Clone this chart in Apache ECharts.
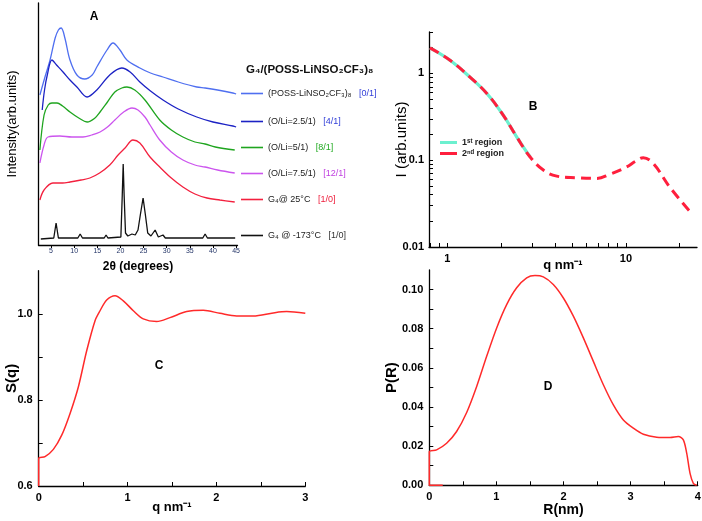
<!DOCTYPE html>
<html><head><meta charset="utf-8">
<script src="https://cdn.jsdelivr.net/npm/echarts@6/dist/echarts.min.js"></script>
<style>html,body{margin:0;padding:0;background:#fff}#c{width:702px;height:521px}</style>
</head><body><div id="c"></div>
<script>
// ---------- Panel A: XRD patterns (2θ degrees, intensity arb. units) ----------
const xrdPOSS = [[2.6,150],[3.7,168],[4.8,185],[5.9,207],[6.6,215],[7.2,217],[8.0,207],[9.1,185],[10.6,170],[12.3,166],[13.9,170],[14.9,178],[17.1,195],[18.4,202],[19.9,195],[21.4,185],[24.2,177],[26.5,172],[29.2,168],[32.5,163],[36.5,158],[38.3,157],[41,155],[44.3,152],[45,151]];
const xrdOLi25 = [[3.1,135],[3.6,155],[4.2,170],[5.2,185],[6.2,180],[7.6,173],[9.1,165],[10.6,158],[12.8,148],[14.9,155],[17.7,170],[20.3,177],[22.1,173],[24.2,163],[26.5,154],[29.2,145],[32.5,136],[36.5,128],[40,123],[44.3,119],[45,118]];
const xrdOLi5 = [[2.6,95],[3.5,130],[4.4,140],[5.2,142],[6.3,142],[7.5,139],[9.1,133],[11,127],[12.8,123],[14.5,127],[15.6,133],[17.2,143],[18.8,153],[20.3,157],[21.4,158],[23.1,155],[25.3,145],[28.5,125],[31,115],[33.5,108],[36.1,103],[38.3,101],[40.5,98],[44.7,95]];
const xrdOLi75 = [[2.6,82],[3.5,100],[4.35,108],[6.9,109],[9.5,108],[11.9,108],[13.8,110],[15.6,113],[17.2,118],[18.8,125],[20.7,133],[22.5,137],[23.8,135],[25.3,128],[26.4,120],[28.5,105],[31,93],[33.5,85],[36.1,80],[38.3,78],[41,75],[44.7,72]];
const xrdG4RT = [[2.6,45],[3.5,55],[5.4,62],[7.5,62],[9.1,63],[11.5,65],[13.4,67],[15.5,72],[17.7,80],[19.5,90],[21,97],[22.7,105],[24.2,102],[26.4,88],[28.5,78],[31,67],[33.5,58],[36.1,51],[38.7,47],[41.5,45],[44.7,43]];
const xrdG4Cold = [[2.8,6],[5.6,7],[6.1,22],[6.6,7],[10.8,7],[11.3,11],[11.8,7],[16.5,7],[16.9,10],[17.3,7],[20.1,8],[20.4,50],[20.6,81],[20.8,50],[21.1,12],[21.6,9],[22.5,11],[23.2,10],[23.8,15],[24.3,30],[24.9,47],[25.4,30],[25.9,12],[26.6,9],[27.5,15],[28.2,8],[29.2,10],[29.7,7],[35.7,7],[36.1,9],[36.5,7],[37.8,7],[38.3,11],[38.8,7],[42.2,7],[42.6,9],[43,7],[44.8,7]];
const aNames = ['(POSS-LiNSO₂CF₃)₈','(O/Li=2.5/1)','(O/Li=5/1)','(O/Li=7.5/1)','G₄@ 25°C','G₄ @ -173°C'];
const aTags = ['[0/1]','[4/1]','[8/1]','[12/1]','[1/0]','[1/0]'];
const aTickVals = [5,10,15,20,25,30,35,40,45];

// ---------- Panel B: SAXS intensity (log-log) ----------
const bQ1 = [0.8,1.04,1.34,1.67,2.06,2.45,2.91];
const bI1 = [1.97,1.41,0.906,0.584,0.329,0.185,0.109];
const bQ2 = [0.8,1.04,1.34,1.67,2.06,2.45,2.91,3.45,4.1,5.3,6.87,8.13,10.1,11.3,12.5,14.2,17.6,22.6];
const bI2 = [1.97,1.41,0.906,0.584,0.329,0.185,0.109,0.077,0.0655,0.0627,0.0617,0.0689,0.0837,0.097,0.107,0.0918,0.049,0.0262];
const bXLabelVals = [1,10];
const bXTickVals = [0.8,0.9,1,2,3,4,5,6,7,8,9,10,20];
const bYLabelVals = [0.01,0.1,1];
const bYTickVals = [0.01,0.02,0.03,0.04,0.05,0.06,0.07,0.08,0.09,0.1,0.2,0.3,0.4,0.5,0.6,0.7,0.8,0.9,1,2,3];
const bNames = ['1ˢᵗ region','2ⁿᵈ region'];

// ---------- Panel C: structure factor ----------
const cQ = [0,0,0.071,0.165,0.259,0.352,0.446,0.54,0.634,0.69,0.765,0.859,0.952,1.065,1.177,1.327,1.477,1.665,1.852,2.04,2.227,2.415,2.64,2.79,3.0];
const cS = [0.6,0.664,0.668,0.685,0.718,0.768,0.830,0.914,0.984,1.007,1.032,1.042,1.030,1.007,0.988,0.982,0.991,1.005,1.008,1.001,0.995,0.995,1.002,1.005,1.001];
const cXLabelVals = [0,1,2,3];
const cXTickVals = [0,0.5,1,1.5,2,2.5,3];
const cYLabelVals = [0.6,0.8,1.0];
const cYTickVals = [0.6,0.7,0.8,0.9,1.0];

// ---------- Panel D: pair distance distribution ----------
const dR = [0.2,0,0,0.109,0.258,0.407,0.557,0.706,0.855,1.004,1.153,1.302,1.451,1.575,1.699,1.848,1.998,2.147,2.296,2.445,2.594,2.743,2.892,3.041,3.19,3.389,3.588,3.712,3.786,3.836,3.886,3.935,3.985];
const dP = [0,0,0.0171,0.0181,0.0215,0.0275,0.0372,0.0505,0.0659,0.0804,0.0923,0.1009,0.106,0.1072,0.1065,0.1026,0.0957,0.0864,0.0753,0.0633,0.0514,0.0411,0.0334,0.0292,0.0261,0.0246,0.0244,0.0249,0.0232,0.0164,0.0061,0.001,0];
const dXLabelVals = [0,1,2,3,4];
const dXTickVals = [0,0.5,1,1.5,2,2.5,3,3.5,4];
const dYLabelVals = [0,0.02,0.04,0.06,0.08,0.10];
const dYTickVals = [0,0.01,0.02,0.03,0.04,0.05,0.06,0.07,0.08,0.09,0.10];

// ---------- styling / layout ----------
const FONT = 'Liberation Sans, Arial, sans-serif';
const aColors = ['#4f6ff0','#1c22c4','#1fa51f','#cc55ee','#f3203e','#111111'];
const aTagColors = ['#3340d8','#3340d8','#22aa22','#c040e0','#ee1c3a','#333333'];
const aLegendTops = [95,123,149,175,201,237];
const zip = (a,b)=>a.map((v,i)=>[v,b[i]]);
const axisLine = {show:true,onZero:false,lineStyle:{color:'#000',width:1.3}};
const lbl = (vals,fmt,margin)=>({show:true,customValues:vals,fontSize:11,fontWeight:'bold',color:'#000',fontFamily:FONT,margin:margin,formatter:fmt});
const tck = (vals)=>({show:true,inside:true,length:4,customValues:vals,lineStyle:{color:'#000',width:1}});
const nameStyle = (sz,w)=>({fontSize:sz,fontWeight:w||'bold',color:'#000',fontFamily:FONT});
const logFmt = v=>String(Number(Number(v).toPrecision(3)));

const aData = [xrdPOSS,xrdOLi25,xrdOLi5,xrdOLi75,xrdG4RT,xrdG4Cold];
const series = [];
aData.forEach((d,i)=>{
  series.push({type:'line',name:aNames[i],xAxisIndex:0,yAxisIndex:0,data:d,symbol:'none',
    smooth:i===5?false:0.35,lineStyle:{color:aColors[i],width:1.3},itemStyle:{color:aColors[i]},animation:false});
});
series.push({type:'line',name:bNames[0],xAxisIndex:1,yAxisIndex:1,data:zip(bQ1,bI1),symbol:'none',smooth:0.4,
  lineStyle:{color:'#6cf0cf',width:3.2},itemStyle:{color:'#6cf0cf'},animation:false});
series.push({type:'line',name:bNames[1],xAxisIndex:1,yAxisIndex:1,data:zip(bQ2,bI2),symbol:'none',smooth:0.4,
  lineStyle:{color:'#ff1f3d',width:3,type:[10,6]},itemStyle:{color:'#ff1f3d'},animation:false});
series.push({type:'line',name:'S(q)',xAxisIndex:2,yAxisIndex:2,data:zip(cQ,cS),symbol:'none',smooth:0.3,
  lineStyle:{color:'#ff2a2a',width:1.5},animation:false});
series.push({type:'line',name:'P(R)',xAxisIndex:3,yAxisIndex:3,data:zip(dR,dP),symbol:'none',smooth:0.3,
  lineStyle:{color:'#ff2a2a',width:1.5},animation:false});

const legends = aNames.map((n,i)=>({
  data:[{name:n,icon:'rect'}],left:241,top:aLegendTops[i]-6,itemWidth:22,itemHeight:1.6,padding:0,selectedMode:false,
  formatter:name=>'{a|'+name+'}   {b|'+aTags[i]+'}',
  textStyle:{fontSize:9,color:'#222',fontFamily:FONT,
    rich:{a:{fontSize:9,color:'#222',fontFamily:FONT},b:{fontSize:9,color:aTagColors[i],fontFamily:FONT}}}
}));
legends.push({data:[{name:bNames[0],icon:'rect'},{name:bNames[1],icon:'rect'}],left:440,top:138,orient:'vertical',itemWidth:17,itemHeight:3,itemGap:2,padding:0,selectedMode:false,
  textStyle:{fontSize:9,fontWeight:'bold',color:'#222',fontFamily:FONT}});

const option = {
  backgroundColor:'#fff',
  animation:false,
  textStyle:{fontFamily:FONT},
  grid:[
    {left:38.5,top:3,width:199,height:242,outerBoundsMode:'none',containLabel:false},
    {left:429,top:32,width:268,height:215,outerBoundsMode:'none',containLabel:false},
    {left:38.7,top:270.7,width:266.6,height:215.3,outerBoundsMode:'none',containLabel:false},
    {left:429.3,top:270,width:268.4,height:215.3,outerBoundsMode:'none',containLabel:false}
  ],
  legend:legends,
  xAxis:[
    {gridIndex:0,type:'value',min:2.3,max:45.3,axisLine:axisLine,splitLine:{show:false},
      axisTick:{show:true,inside:false,length:3,customValues:aTickVals,lineStyle:{color:'#000'}},
      axisLabel:{customValues:aTickVals,fontSize:7,color:'#223366',margin:3,fontFamily:FONT},
      name:'2θ (degrees)',nameLocation:'middle',nameGap:16,nameMoveOverlap:false,nameTextStyle:nameStyle(12)},
    {gridIndex:1,type:'log',logBase:10,min:0.79,max:25,axisLine:axisLine,splitLine:{show:false},minorTick:{show:false},
      axisTick:tck(bXTickVals),axisLabel:lbl(bXLabelVals,logFmt,6),
      name:'q nm⁻¹',nameLocation:'middle',nameGap:12,nameMoveOverlap:false,nameTextStyle:nameStyle(13)},
    {gridIndex:2,type:'value',min:0,max:3,axisLine:axisLine,splitLine:{show:false},
      axisTick:tck(cXTickVals),axisLabel:lbl(cXLabelVals,v=>String(Math.round(v)),6),
      name:'q nm⁻¹',nameLocation:'middle',nameGap:14.5,nameMoveOverlap:false,nameTextStyle:nameStyle(13)},
    {gridIndex:3,type:'value',min:0,max:4,axisLine:axisLine,splitLine:{show:false},
      axisTick:tck(dXTickVals),axisLabel:lbl(dXLabelVals,v=>String(Math.round(v)),6),
      name:'R(nm)',nameLocation:'middle',nameGap:18,nameMoveOverlap:false,nameTextStyle:nameStyle(14)}
  ],
  yAxis:[
    {gridIndex:0,type:'value',min:0,max:242,axisLine:axisLine,splitLine:{show:false},axisTick:{show:false},axisLabel:{show:false},
      name:'Intensity(arb.units)',nameLocation:'middle',nameGap:20,nameMoveOverlap:false,nameTextStyle:nameStyle(13,'normal')},
    {gridIndex:1,type:'log',logBase:10,min:0.01,max:3,axisLine:axisLine,splitLine:{show:false},minorTick:{show:false},
      axisTick:tck(bYTickVals),axisLabel:lbl(bYLabelVals,logFmt,5),
      name:'I (arb.units)',nameLocation:'middle',nameGap:20,nameMoveOverlap:false,nameTextStyle:nameStyle(15,'normal')},
    {gridIndex:2,type:'value',min:0.6,max:1.1,axisLine:axisLine,splitLine:{show:false},
      axisTick:tck(cYTickVals),axisLabel:lbl(cYLabelVals,v=>Number(v).toFixed(1),6),
      name:'S(q)',nameLocation:'middle',nameGap:19,nameMoveOverlap:false,nameTextStyle:nameStyle(15)},
    {gridIndex:3,type:'value',min:0,max:0.11,axisLine:axisLine,splitLine:{show:false},
      axisTick:tck(dYTickVals),axisLabel:lbl(dYLabelVals,v=>Number(v).toFixed(2),6),
      name:'P(R)',nameLocation:'middle',nameGap:30,nameMoveOverlap:false,nameTextStyle:nameStyle(15)}
  ],
  graphic:[
    {type:'text',x:94,y:17,style:{text:'A',font:'bold 12px '+FONT,fill:'#000',align:'center',verticalAlign:'middle'}},
    {type:'text',x:533,y:107,style:{text:'B',font:'bold 12px '+FONT,fill:'#000',align:'center',verticalAlign:'middle'}},
    {type:'text',x:159,y:366,style:{text:'C',font:'bold 12px '+FONT,fill:'#000',align:'center',verticalAlign:'middle'}},
    {type:'text',x:548,y:387,style:{text:'D',font:'bold 12px '+FONT,fill:'#000',align:'center',verticalAlign:'middle'}},
    {type:'text',x:246,y:70,style:{text:'G₄/(POSS-LiNSO₂CF₃)₈',font:'bold 11.5px '+FONT,fill:'#111',align:'left',verticalAlign:'middle'}}
  ],
  series:series
};
const chart = echarts.init(document.getElementById('c'),null,{renderer:'canvas'});
chart.setOption(option);
</script></body></html>
